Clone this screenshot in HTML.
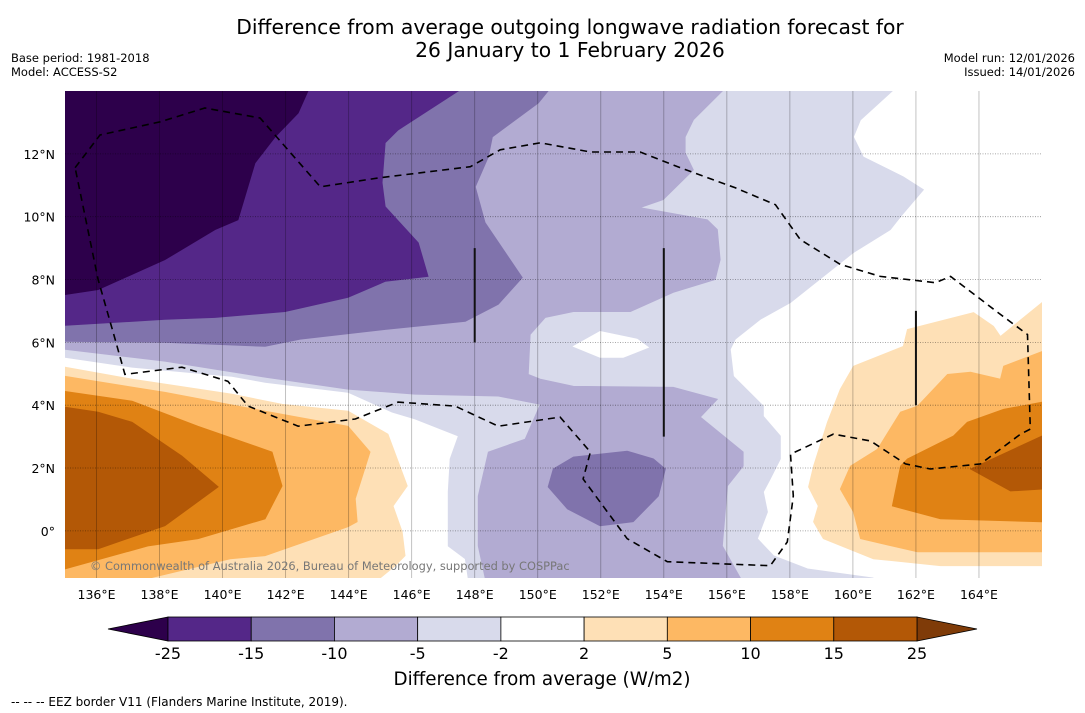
<!DOCTYPE html>
<html><head><meta charset="utf-8"><style>
body{margin:0;background:#fff;width:1085px;height:713px;overflow:hidden;font-family:"DejaVu Sans","Liberation Sans",sans-serif}
svg{position:absolute;left:0;top:0;font-family:"DejaVu Sans","Liberation Sans",sans-serif}
</style></head><body>
<svg id="chart" width="1085" height="713">
<text x="570" y="34" font-size="20.3" text-anchor="middle">Difference from average outgoing longwave radiation forecast for</text>
<text x="570" y="57" font-size="20.3" text-anchor="middle">26 January to 1 February 2026</text>
<text x="11" y="62" font-size="11.5">Base period: 1981-2018</text>
<text x="11" y="76" font-size="11.5">Model: ACCESS-S2</text>
<text x="1075" y="62" font-size="11.5" text-anchor="end">Model run: 12/01/2026</text>
<text x="1075" y="76" font-size="11.5" text-anchor="end">Issued: 14/01/2026</text>
<defs><clipPath id="mapclip"><rect x="65" y="91" width="977" height="487"/></clipPath></defs>
<g id="map" clip-path="url(#mapclip)"></g>
<g id="overlay"></g>
<g id="cbar"></g>
<text x="542" y="685" font-size="18.3" text-anchor="middle">Difference from average (W/m2)</text>
<text x="11" y="706" font-size="12">--  --  -- EEZ border V11 (Flanders Marine Institute, 2019).</text>
</svg>
<script>
// axis domain
const lonMin=135, lonMax=166, latMin=-1.5, latMax=14;
const lonTicks=[136,138,140,142,144,146,148,150,152,154,156,158,160,162,164];
const latTicks=[0,2,4,6,8,10,12];
const latTickLabels=["0°","2°N","4°N","6°N","8°N","10°N","12°N"];
const cbarLevels=["-25","-15","-10","-5","-2","2","5","10","15","25"];
const cbarColors=["#542788","#8073ac","#b2abd2","#d8daeb","#ffffff","#fee0b6","#fdb863","#e08214","#b35806"];
// contour polygons [lon,lat]
const lavender=[[135,14],[161.25,14],[160.24,13.08],[160.02,12.54],[160.33,11.9],[161.6,11.27],[162.24,10.86],[161.51,10],[161.19,9.59],[160.02,8.86],[158.02,7.27],[157.06,6.73],[156.27,6.1],[156.11,5.78],[156.21,4.92],[157.16,3.97],[157.16,3.65],[157.7,3.02],[157.7,2.29],[157.38,1.65],[157.16,1.24],[157.29,0.6],[156.97,-0.25],[157.48,-0.79],[158.56,-1.21],[160.65,-1.5],[147.79,-1.5],[147.7,-0.89],[147.16,-0.48],[147.16,1.24],[147.22,2.29],[147.48,3.02],[146.11,3.56],[145.38,3.78],[143.98,4.41],[141.35,4.73],[140.3,4.92],[137.13,5.21],[135,5.52]];
const whiteHole=[[151.13,5.87],[151.98,6.35],[153.16,6.1],[153.51,5.84],[152.71,5.52],[151.98,5.52]];
const lilac=[[135,14],[155.86,14],[154.94,13.08],[154.68,12.54],[154.68,12.03],[154.94,11.49],[153.98,10.54],[153.25,10.29],[155.38,9.9],[155.7,9.59],[155.79,8.63],[155.63,8],[154.3,7.59],[152.94,6.98],[151.13,6.98],[150.24,6.79],[149.76,6.25],[149.7,4.98],[150.08,4.83],[151.13,4.6],[154.3,4.57],[155.7,4.19],[155.16,3.62],[156.52,2.51],[156.52,2.06],[156.02,1.43],[155.86,-0.48],[156.43,-1.5],[148.33,-1.5],[148.11,-0.48],[148.11,1.11],[148.43,2.51],[149.6,2.92],[150.08,4.03],[148.75,4.29],[146.11,4.35],[143.98,4.51],[141.35,4.89],[138.17,5.4],[135,5.78]];
const midPurple=[[135,14],[150.33,14],[150.02,13.62],[148.56,12.54],[148.43,11.9],[148.02,10.95],[148.33,9.81],[149.51,8.06],[148.75,7.21],[147.7,6.67],[145.16,6.41],[142.46,6.1],[141.35,5.87],[138.17,6],[135,6.03]];
const purple=[[135,14],[147.48,14],[145.57,12.76],[145.16,12.35],[145.06,11.08],[145.16,10.32],[146.21,9.17],[146.52,8.1],[145.16,7.94],[143.98,7.43],[141.98,6.98],[139.76,6.79],[138.17,6.73],[135,6.54]];
const darkPurple=[[135,14],[142.71,14],[142.4,13.3],[141.67,12.54],[141.03,11.71],[140.49,9.9],[139.76,9.59],[138.17,8.63],[136.05,7.68],[135,7.52]];
const midPatch=[[150.49,1.97],[151.13,2.35],[152.84,2.54],[153.67,2.29],[154.05,1.97],[153.83,1.11],[153.03,0.29],[151.98,0.16],[150.94,0.7],[150.33,1.4]];
const creamW=[[135,5.21],[137.13,4.83],[140.3,4.35],[141.89,4.03],[143.98,3.81],[145.25,3.08],[145.86,1.43],[145.41,0.79],[145.7,-0.03],[145.79,-0.79],[145.48,-1.11],[145,-1.5],[135,-1.5]];
const lightOrangeW=[[135,4.92],[138.17,4.41],[141.35,3.81],[143.98,3.33],[144.68,2.51],[144.21,1.02],[144.27,0.29],[143.98,0.13],[141.35,-0.79],[140.24,-0.89],[137.7,-1.5],[135,-1.5]];
const orangeW=[[135,4.44],[137.13,4.13],[139.22,3.33],[141.57,2.51],[141.89,1.43],[141.35,0.38],[139.22,-0.25],[137.63,-0.48],[135,-1.21]];
const brownW=[[135,3.94],[136.05,3.78],[137.13,3.46],[138.71,2.38],[139.86,1.4],[138.17,0.16],[136.05,-0.57],[135,-0.57]];
const creamE=[[166,7.27],[164.68,6.19],[164.46,6.51],[163.83,6.95],[161.73,6.41],[161.6,5.87],[160.02,5.24],[159.6,4.51],[159.19,3.46],[158.75,2.06],[158.59,1.4],[158.9,0.79],[158.75,0.29],[159.06,-0.25],[160.65,-0.89],[162.78,-1.11],[166,-1.11]];
const lightOrangeE=[[166,5.71],[164.78,5.24],[164.68,4.83],[163.73,5.05],[163,4.98],[162.05,3.97],[161.51,3.78],[160.78,2.6],[159.92,2.06],[159.6,1.33],[160.02,0.6],[160.24,-0.25],[162.05,-0.67],[166,-0.67]];
const orangeE=[[166,4.1],[164.78,3.87],[163.63,3.46],[163.19,3.02],[161.73,2.29],[161.51,2.06],[161.25,0.79],[162.78,0.38],[166,0.29]];
const brownE=[[166,3.02],[163.73,1.97],[165,1.27],[166,1.33]];
const eezLine=[[135.32,11.56],[136.11,12.6],[138.02,13.02],[139.44,13.46],[141.19,13.14],[143.1,10.95],[145,11.24],[147.86,11.59],[148.81,12.13],[150.08,12.35],[151.67,12.06],[153.25,12.06],[154.52,11.56],[156.27,10.92],[157.54,10.38],[158.33,9.27],[159.6,8.48],[160.87,8.1],[162.62,7.9],[163.1,8.1],[164.68,6.89],[165.54,6.25],[165.63,3.24],[165.32,3.08],[164.05,2.13],[162.46,1.97],[161.67,2.13],[160.56,2.86],[159.38,3.08],[158.02,2.44],[158.11,1.11],[157.92,-0.35],[157.38,-1.11],[154.11,-0.98],[152.84,-0.25],[151.44,1.65],[151.67,2.51],[150.71,3.62],[148.75,3.33],[147.38,3.97],[145.57,4.1],[144.21,3.56],[142.4,3.33],[140.81,3.97],[140.17,4.76],[138.71,5.21],[136.9,4.98],[136.59,6.1],[136.05,8],[135.32,11.56]];
const boundaryLines=[[148,9,6],[154,9,3],[162,7,4]];

const X0=65,X1=1042,Y0=91,Y1=578;
const sx=lon=>X0+(lon-lonMin)/(lonMax-lonMin)*(X1-X0);
const sy=lat=>Y1-(lat-latMin)/(latMax-latMin)*(Y1-Y0);
const NS='http://www.w3.org/2000/svg';
const map=document.getElementById('map'), ov=document.getElementById('overlay'), cb=document.getElementById('cbar');
function mk(tag,attrs,parent){const e=document.createElementNS(NS,tag);for(const k in attrs)e.setAttribute(k,attrs[k]);parent.appendChild(e);return e;}
const ptsStr=arr=>arr.map(p=>sx(p[0]).toFixed(1)+','+sy(p[1]).toFixed(1)).join(' ');

let bg=mk('rect',{x:X0,y:Y0,width:X1-X0,height:Y1-Y0,fill:'#ffffff'},map);


const layers=[
 ['contour-minus5-minus2',lavender,'#d8daeb'],
 ['contour-near-zero-hole',whiteHole,'#ffffff'],
 ['contour-minus10-minus5',lilac,'#b2abd2'],
 ['contour-minus15-minus10',midPurple,'#8073ac'],
 ['contour-minus25-minus15',purple,'#542788'],
 ['contour-below-minus25',darkPurple,'#2d004b'],
 ['contour-minus15-minus10-patch',midPatch,'#8073ac'],
 ['contour-2-5-west',creamW,'#fee0b6'],
 ['contour-5-10-west',lightOrangeW,'#fdb863'],
 ['contour-10-15-west',orangeW,'#e08214'],
 ['contour-15-25-west',brownW,'#b35806'],
 ['contour-2-5-east',creamE,'#fee0b6'],
 ['contour-5-10-east',lightOrangeE,'#fdb863'],
 ['contour-10-15-east',orangeE,'#e08214'],
 ['contour-15-25-east',brownE,'#b35806']];
layers.forEach(l=>{
 const p=mk('polygon',{points:ptsStr(l[1]),fill:l[2],stroke:l[2],'stroke-width':0.8},map);
 
 
});
lonTicks.forEach(lo=>{
 const g=mk('line',{x1:sx(lo),x2:sx(lo),y1:Y0,y2:Y1,stroke:'#000','stroke-opacity':0.3,'stroke-width':0.8},map);
 
 
 const t=mk('text',{x:sx(lo),y:599,'font-size':12.5,'text-anchor':'middle'},ov);
 t.textContent=lo+'°E';
 
 
});
latTicks.forEach((la,i)=>{
 const g=mk('line',{x1:X0,x2:X1,y1:sy(la),y2:sy(la),stroke:'#000','stroke-opacity':0.45,'stroke-width':0.8,'stroke-dasharray':'1,1.5'},map);
 
 
 const t=mk('text',{x:55,y:sy(la)+5,'font-size':12.5,'text-anchor':'end'},ov);
 t.textContent=latTickLabels[i];
 
 
});
const eez=mk('polyline',{points:ptsStr(eezLine),fill:'none',stroke:'#000','stroke-width':1.6,'stroke-dasharray':'7,5'},map);


boundaryLines.forEach(b=>{
 const l=mk('line',{x1:sx(b[0]),x2:sx(b[0]),y1:sy(b[1]),y2:sy(b[2]),stroke:'#111','stroke-width':2},map);
 
 
});
const cr=mk('text',{x:90,y:570,'font-size':11.4,fill:'#777'},map);
cr.textContent='© Commonwealth of Australia 2026, Bureau of Meteorology, supported by COSPPac';


const CB0=168,CB1=917,CBy=617,CBh=24,tri=60;
const w=(CB1-CB0)/cbarColors.length;
const lt=mk('polygon',{points:`${CB0},${CBy} ${CB0-tri},${CBy+CBh/2} ${CB0},${CBy+CBh}`,fill:'#2d004b',stroke:'#000','stroke-width':0.8},cb);


const rt=mk('polygon',{points:`${CB1},${CBy} ${CB1+tri},${CBy+CBh/2} ${CB1},${CBy+CBh}`,fill:'#7f3b08',stroke:'#000','stroke-width':0.8},cb);


cbarColors.forEach((c,i)=>{
 const r=mk('rect',{x:CB0+i*w,y:CBy,width:w,height:CBh,fill:c,stroke:'#000','stroke-width':0.8},cb);
 
 
});
cbarLevels.forEach((lv,i)=>{
 const t=mk('text',{x:CB0+i*w,y:659,'font-size':16,'text-anchor':'middle'},cb);
 t.textContent=lv;
 
 
});
</script>
</body></html>
